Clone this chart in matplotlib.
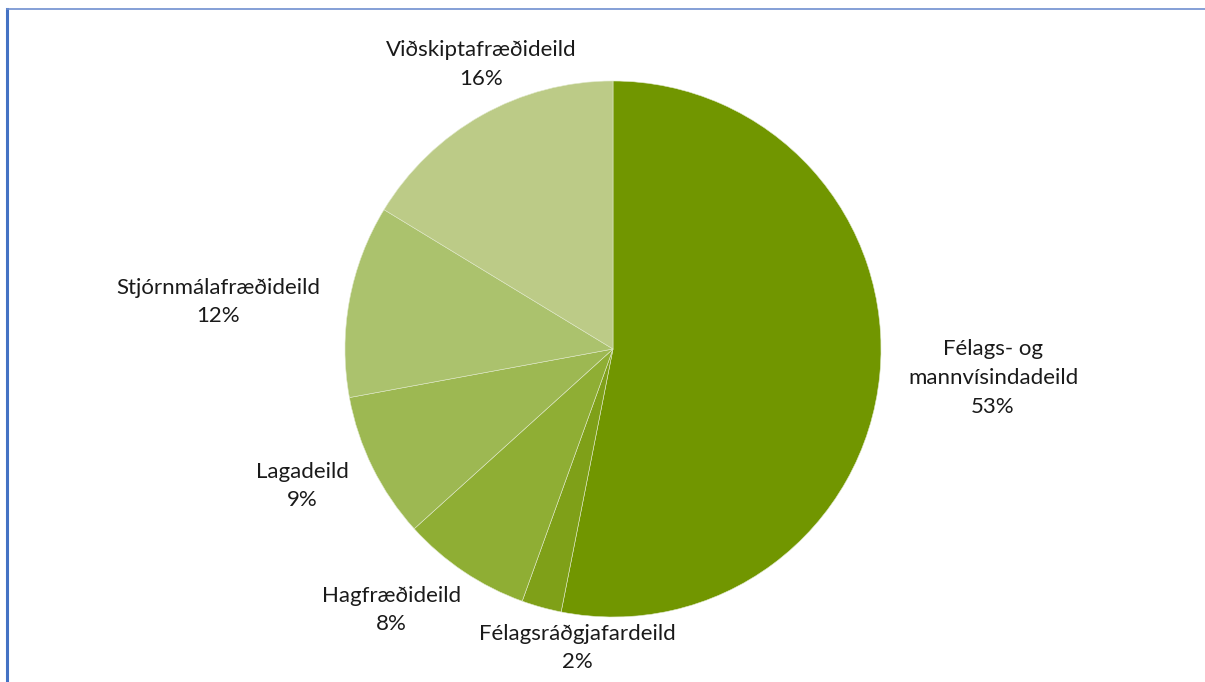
import matplotlib
matplotlib.use('Agg')
import matplotlib.pyplot as plt
from matplotlib.lines import Line2D

plt.rcParams['font.family'] = ['Lato', 'DejaVu Sans']

# share by department (clockwise from 12 o'clock)
departments = ['Félags- og\nmannvísindadeild', 'Félagsráðgjafardeild', 'Hagfræðideild',
               'Lagadeild', 'Stjórnmálafræðideild', 'Viðskiptafræðideild']
shares = [53.1, 2.4, 7.8, 8.8, 11.6, 16.3]
colors = ['#719600', '#7fa018', '#8fae34', '#9db852', '#abc26d', '#bccb87']

# label spots in units of the pie radius (Excel moves them around)
label_xy = [(1.418, -0.108), (-0.134, -1.116), (-0.828, -0.974),
            (-1.160, -0.511), (-1.474, 0.175), (-0.493, 1.063)]

W, H = 1205, 682
cx, cy, R = 613, 333, 268  # pixels, cy measured from bottom

fig = plt.figure(figsize=(W / 100, H / 100), dpi=100)
ax = fig.add_axes([0, 0, 1, 1])
ax.pie(shares, colors=colors, startangle=90, counterclock=False, radius=1,
       wedgeprops=dict(edgecolor='#dfe8c8', linewidth=0.4))
ax.set_xlim(-cx / R, (W - cx) / R)
ax.set_ylim(-cy / R, (H - cy) / R)
ax.axis('off')

for name, val, (x, y) in zip(departments, shares, label_xy):
    ax.text(x, y, f'{name}\n{round(val):d}%', ha='center', va='center',
            fontsize=16, color='#1a1a1a', linespacing=1.55)

# frame lines like the original sheet
fig.add_artist(Line2D([7.5 / W, 7.5 / W], [0, 1 - 9 / H], transform=fig.transFigure,
                      color='#4472c4', linewidth=2.2))
fig.add_artist(Line2D([7 / W, 1], [1 - 9 / H, 1 - 9 / H], transform=fig.transFigure,
                      color='#6f8fcf', linewidth=1.2))

fig.savefig('out.png', dpi=100)
